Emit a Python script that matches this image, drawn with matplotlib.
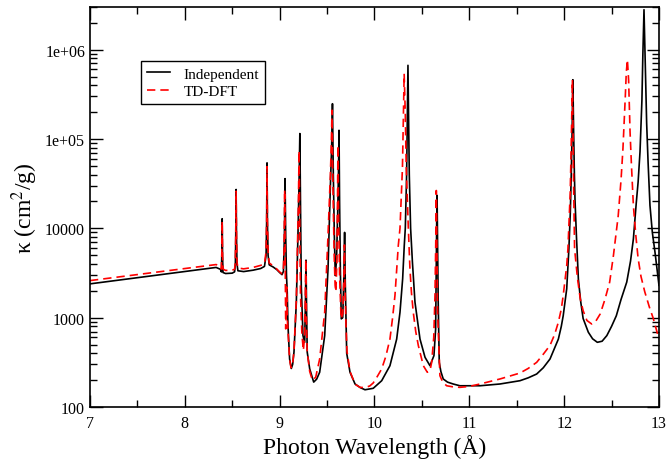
import matplotlib
matplotlib.use('Agg')
import matplotlib.pyplot as plt
from matplotlib.ticker import FixedLocator, FuncFormatter, LogLocator, NullFormatter, MultipleLocator

# spectrum: wavelength (A) and opacity (cm^2/g)
indep_wl = [7.00, 8.33, 8.375, 8.386, 8.390, 8.394, 8.398, 8.403, 8.43, 8.50,
            8.525, 8.533, 8.537, 8.541, 8.545, 8.550, 8.56, 8.62, 8.72, 8.80,
            8.84, 8.857, 8.863, 8.867, 8.871, 8.878, 8.89, 8.93, 8.97, 9.00,
            9.025, 9.040, 9.050, 9.057, 9.064, 9.072, 9.080, 9.088, 9.105, 9.123,
            9.137, 9.151, 9.176, 9.193, 9.204, 9.213, 9.220, 9.228, 9.246, 9.264,
            9.272, 9.278, 9.284, 9.291, 9.317, 9.359, 9.39, 9.422, 9.475, 9.51,
            9.535, 9.548, 9.557, 9.566, 9.577, 9.587, 9.600, 9.612, 9.620, 9.626,
            9.632, 9.640, 9.650, 9.665, 9.676, 9.685, 9.692, 9.700, 9.707, 9.742,
            9.795, 9.85, 9.90, 9.987, 10.076, 10.163, 10.234, 10.269, 10.297, 10.314,
            10.325, 10.339, 10.346, 10.353, 10.360, 10.367, 10.381, 10.40, 10.427, 10.48,
            10.533, 10.585, 10.627, 10.645, 10.652, 10.656, 10.660, 10.665, 10.672, 10.683,
            10.70, 10.725, 10.77, 10.83, 10.90, 11.007, 11.113, 11.323, 11.534, 11.62,
            11.71, 11.78, 11.851, 11.90, 11.939, 11.97, 11.99, 12.027, 12.05, 12.065,
            12.075, 12.084, 12.092, 12.100, 12.108, 12.115, 12.13, 12.15, 12.175, 12.20,
            12.255, 12.30, 12.35, 12.40, 12.45, 12.50, 12.55, 12.60, 12.66, 12.70,
            12.73, 12.76, 12.78, 12.80, 12.82, 12.83, 12.842, 12.855, 12.87, 12.885,
            12.905, 12.93, 12.958, 13.00]
indep_kappa = [2390, 3650, 3480, 3250, 5000, 12800, 4800, 3200, 3120, 3150,
               3260, 4000, 8000, 27200, 8000, 4000, 3350, 3280, 3400, 3550,
               3750, 5000, 12000, 54000, 12000, 5000, 3900, 3700, 3450, 3200,
               3030, 3300, 8000, 36000, 8000, 3000, 1930, 815, 345, 270,
               300, 410, 1490, 8300, 30000, 115000, 20000, 2300, 630, 530,
               1500, 4400, 1200, 410, 267, 190, 205, 245, 630, 3500,
               30000, 80000, 248000, 40000, 8000, 2960, 4500, 15000, 40000, 125000,
               20000, 3500, 970, 1000, 2500, 9000, 2500, 900, 400, 245,
               181, 165, 156, 162, 197, 290, 576, 1150, 2720, 6400,
               10000, 40000, 160000, 667000, 160000, 40000, 10000, 4200, 1490, 576,
               360, 290, 376, 750, 5000, 12000, 23400, 8000, 1500, 316,
               250, 206, 190, 181, 173, 173, 173, 181, 197, 212,
               234, 275, 345, 460, 576, 800, 1050, 2100, 5900, 15000,
               40000, 120000, 460000, 120000, 40000, 20000, 8000, 2700, 1500, 980,
               687, 580, 530, 545, 630, 800, 1050, 1600, 2500, 4300,
               7600, 19000, 33000, 72000, 270000, 880000, 2800000, 750000, 150000, 55000,
               18000, 9000, 5400, 2300]

tddft_wl = [7.00, 8.33, 8.375, 8.385, 8.390, 8.394, 8.398, 8.403, 8.43, 8.50,
            8.525, 8.533, 8.537, 8.541, 8.545, 8.550, 8.56, 8.62, 8.72, 8.80,
            8.84, 8.857, 8.863, 8.867, 8.871, 8.878, 8.89, 8.93, 8.97, 9.00,
            9.025, 9.040, 9.047, 9.053, 9.058, 9.064, 9.070, 9.075, 9.080, 9.088,
            9.105, 9.12, 9.135, 9.151, 9.176, 9.19, 9.198, 9.205, 9.212, 9.22,
            9.235, 9.25, 9.262, 9.270, 9.276, 9.282, 9.29, 9.317, 9.345, 9.38,
            9.422, 9.475, 9.51, 9.535, 9.545, 9.552, 9.562, 9.575, 9.585, 9.593,
            9.603, 9.610, 9.615, 9.621, 9.632, 9.648, 9.665, 9.676, 9.683, 9.690,
            9.700, 9.71, 9.742, 9.795, 9.847, 9.90, 9.95, 9.987, 10.03, 10.076,
            10.12, 10.163, 10.19, 10.216, 10.251, 10.269, 10.295, 10.305, 10.313, 10.325,
            10.335, 10.357, 10.374, 10.39, 10.409, 10.435, 10.462, 10.515, 10.557, 10.585,
            10.603, 10.625, 10.638, 10.647, 10.652, 10.657, 10.665, 10.69, 10.72, 10.761,
            10.83, 10.90, 11.00, 11.113, 11.323, 11.534, 11.62, 11.71, 11.78, 11.851,
            11.90, 11.939, 11.97, 11.99, 12.027, 12.04, 12.064, 12.075, 12.087, 12.095,
            12.10, 12.11, 12.14, 12.17, 12.20, 12.24, 12.29, 12.33, 12.38, 12.43,
            12.48, 12.52, 12.57, 12.60, 12.62, 12.645, 12.655, 12.667, 12.68, 12.695,
            12.71, 12.73, 12.755, 12.78, 12.81, 12.85, 12.90, 12.94, 13.00]
tddft_kappa = [2600, 3930, 3750, 3500, 5000, 12000, 5000, 3500, 3380, 3400,
               3480, 4200, 8000, 26000, 8000, 4200, 3600, 3520, 3650, 3850,
               4000, 5500, 12000, 49000, 12000, 5500, 4100, 3800, 3500, 3250,
               3100, 3500, 6000, 27000, 6000, 750, 1200, 2200, 1000, 700,
               340, 275, 290, 420, 1600, 8000, 20000, 74000, 10000, 1800,
               650, 430, 600, 1500, 4500, 1000, 420, 250, 200, 215,
               345, 1150, 8300, 40000, 90000, 210000, 30000, 5000, 2300, 1950,
               4000, 20000, 85000, 15000, 3000, 970, 1100, 2500, 6500, 2000,
               800, 420, 250, 180, 166, 165, 172, 186, 220, 267,
               370, 576, 980, 1770, 6400, 10000, 48000, 190000, 537000, 190000,
               48000, 10000, 3500, 1900, 1150, 700, 490, 290, 245, 255,
               316, 600, 1770, 8000, 26500, 8000, 1200, 224, 190, 173,
               168, 166, 170, 181, 206, 240, 270, 316, 390, 490,
               650, 890, 1250, 1770, 3800, 5900, 25000, 90000, 460000, 80000,
               30000, 5900, 2800, 1620, 1200, 930, 850, 900, 1100, 1600,
               2500, 5000, 13800, 35000, 78000, 300000, 550000, 772000, 450000, 120000,
               50000, 18000, 8500, 4600, 2900, 1950, 1300, 980, 575]

plt.rcParams['font.family'] = ['Liberation Serif', 'DejaVu Serif']
plt.rcParams['mathtext.fontset'] = 'stix'

fig = plt.figure(figsize=(6.68, 4.6), dpi=100)
ax = fig.add_axes([0.1347, 0.113, 0.8518, 0.8696])

ax.plot(indep_wl, indep_kappa, color='black', lw=1.2, label='Independent')
ax.plot(tddft_wl, tddft_kappa, color='red', lw=1.2, ls=(0, (5, 3)), label='TD-DFT')

ax.set_yscale('log')
ax.set_xlim(7, 13)
ax.set_ylim(100, 3.0e6)

ax.xaxis.set_major_locator(MultipleLocator(1))
ax.xaxis.set_minor_locator(MultipleLocator(0.5))
ax.yaxis.set_major_locator(FixedLocator([100, 1000, 10000, 1e5, 1e6]))
ytxt = {100: '100', 1000: '1000', 10000: '10000', 100000: '1e+05', 1000000: '1e+06'}
ax.yaxis.set_major_formatter(FuncFormatter(lambda v, p: ytxt.get(int(round(v)), '')))
ax.yaxis.set_minor_locator(LogLocator(base=10, subs=range(2, 10), numticks=20))
ax.yaxis.set_minor_formatter(NullFormatter())

ax.tick_params(which='both', direction='in', top=True, right=True, labelsize=11.5)
ax.tick_params(which='major', length=9, width=1)
ax.tick_params(which='minor', length=5, width=1)
ax.tick_params(axis='x', pad=6)
for s in ax.spines.values():
    s.set_linewidth(1.2)

ax.set_xlabel('Photon Wavelength (Å)', fontsize=17, labelpad=2)
ax.set_ylabel('κ (cm$^{2}$/g)', fontsize=17, labelpad=4)

leg = ax.legend(loc='upper left', bbox_to_anchor=(0.0896, 0.865), borderaxespad=0,
                fontsize=11, fancybox=False, edgecolor='black', framealpha=1,
                handlelength=1.5, handletextpad=0.9, borderpad=0.4, labelspacing=0.25)
leg.get_frame().set_linewidth(1.0)

fig.savefig('out.png', dpi=100)
